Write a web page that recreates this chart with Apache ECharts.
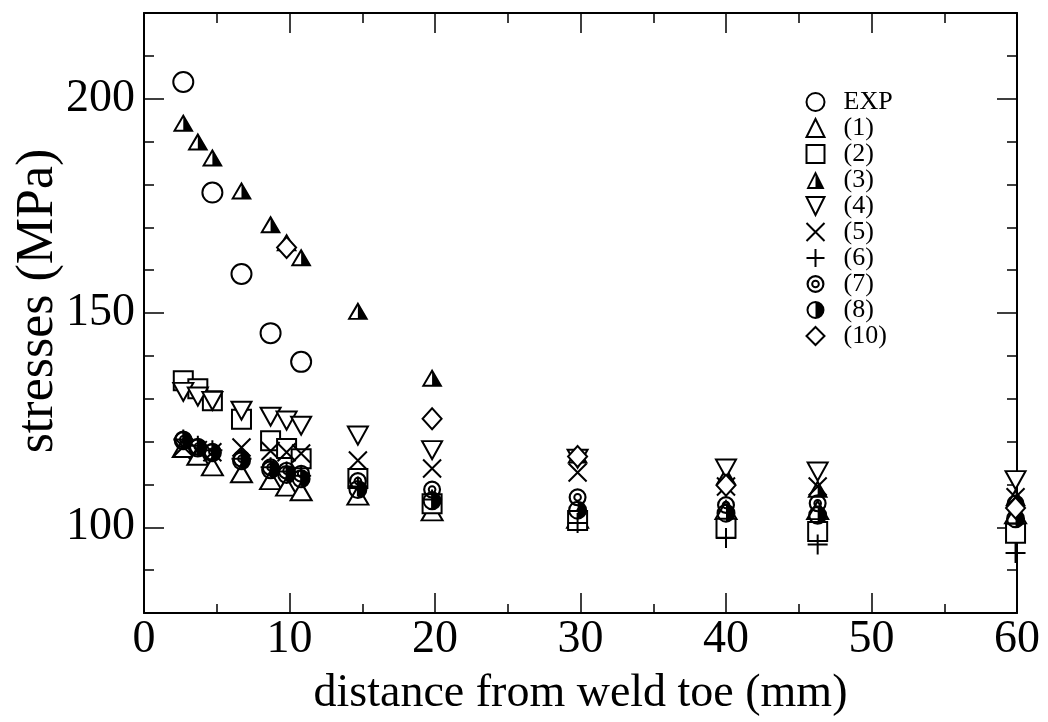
<!DOCTYPE html>
<html>
<head>
<meta charset="utf-8">
<script src="https://cdn.jsdelivr.net/npm/echarts@6/dist/echarts.min.js"></script>
<style>html,body{margin:0;padding:0;background:#fff}#c{width:1048px;height:722px}</style>
</head>
<body>
<div id="c"></div>
<script>
// ---- data ----
const X   = [2.7, 3.7, 4.7, 6.7, 8.7, 9.8, 10.8, 14.7, 19.8, 29.8, 40.0, 46.3, 59.9];
const EXP = [203.9, null, 178.1, 159.1, 145.3, null, 138.6, null, null, null, null, null, null];
const S1  = [118.5, 116.7, 114.2, 112.6, 111.0, 109.5, 108.4, 107.4, 103.7, 102.0, 104.0, 104.0, 103.0];
const S2  = [134.2, 132.3, 129.5, 125.2, 120.2, 118.4, 116.0, 111.4, 105.5, 101.6, 99.8, 99.0, 98.6];
const S3  = [194.4, 190.0, 186.3, 178.6, 170.7, 166.5, 163.0, 150.5, 134.9, 117.0, 112.0, 109.0, 107.0];
const S4  = [131.6, 130.5, 129.5, 127.2, 125.8, 124.9, 123.7, 121.4, 118.0, 116.0, 113.7, 113.0, 111.0];
const S5  = [118.8, 118.0, 117.5, 118.6, 117.8, 117.5, 117.2, 115.6, 113.7, 112.8, 109.5, 109.5, 107.0];
const S6  = [120.5, 119.0, 118.0, 116.0, 114.0, 113.0, 112.0, 109.5, 106.5, 101.0, 97.5, 96.0, 94.0];
const S7  = [120.5, 118.8, 117.6, 116.0, 114.0, 113.2, 112.5, 110.8, 108.8, 107.0, 105.2, 105.6, 105.5];
const S8  = [120.2, 118.5, 117.4, 115.5, 113.4, 112.3, 111.3, 108.8, 106.2, 104.0, 103.3, 102.8, 102.0];
const S10 = [null, null, null, null, null, 165.3, null, null, 125.3, 116.5, 109.8, null, 104.5];
const NAMES = ['EXP', '(1)', '(2)', '(3)', '(4)', '(5)', '(6)', '(7)', '(8)', '(10)'];
const Y_LABELS = [100, 150, 200];

// ---- symbols ----
const P = {
  tri: 'path://M50,0 L100,100 L0,100 Z',
  square: 'path://M0,0 L100,0 L100,100 L0,100 Z',
  down: 'path://M0,0 L100,0 L50,100 Z',
  halfTri: 'path://M50,0 L100,100 L0,100 Z M50,23 L16,89 L84,89 Z M50,0 L100,100 L50,100 Z',
  cross: 'path://M0,0 L100,100 M100,0 L0,100',
  plus: 'path://M50,0 L50,100 M0,50 L100,50',
  dcirc: 'path://M50,0 A50,50 0 1,1 50,100 A50,50 0 1,1 50,0 Z M50,12 A38,38 0 1,0 50,88 A38,38 0 1,0 50,12 Z M50,26 A24,24 0 1,1 50,74 A24,24 0 1,1 50,26 Z M50,37 A13,13 0 1,0 50,63 A13,13 0 1,0 50,37 Z',
  hcirc: 'path://M50,0 A50,50 0 1,1 50,100 A50,50 0 1,1 50,0 Z M50,11 A39,39 0 1,0 50,89 A39,39 0 1,0 50,11 Z M50,0 A50,50 0 0,1 50,100 Z',
  diamond: 'path://M50,0 L100,50 L50,100 L0,50 Z'
};
const open = {color: '#fff', borderColor: '#000', borderWidth: 2, opacity: 1};
const openLine = {color: 'none', borderColor: '#000', borderWidth: 2, opacity: 1};
const solid = {color: '#000', borderWidth: 0, opacity: 1};

function pts(vals) {
  const out = [];
  vals.forEach((v, i) => { if (v !== null) out.push([X[i], v]); });
  return out;
}
const defs = [
  [EXP, 'circle', 20, open],
  [S1, P.tri, [21, 18], open],
  [S2, P.square, 19, open],
  [S3, P.halfTri, [21, 18], solid],
  [S4, P.down, [20, 18], open],
  [S5, P.cross, 18, openLine],
  [S6, P.plus, 20, openLine],
  [S7, P.dcirc, 18, solid],
  [S8, P.hcirc, 19, solid],
  [S10, P.diamond, [19, 21], open]
];
const series = defs.map((d, k) => ({
  name: NAMES[k], type: 'scatter', xAxisIndex: 0, yAxisIndex: 0,
  symbol: d[1], symbolSize: d[2], itemStyle: d[3],
  data: pts(d[0]), emphasis: {disabled: true}, animation: false
}));

const serif = 'Liberation Serif, Times New Roman, serif';
const lineS = {show: true, lineStyle: {color: '#000', width: 2}};
const chart = echarts.init(document.getElementById('c'), null, {renderer: 'canvas'});
chart.setOption({
  backgroundColor: '#fff',
  animation: false,
  grid: {left: 144, top: 13, right: 31, bottom: 109, containLabel: false, outerBoundsMode: 'none'},
  legend: {
    orient: 'vertical', left: 804, top: 89, padding: 0, itemWidth: 46, itemHeight: 18, itemGap: 0,
    textStyle: {fontFamily: serif, fontSize: 26, lineHeight: 20, color: '#000'},
    data: NAMES, selectedMode: false
  },
  xAxis: [
    {type: 'value', position: 'bottom', min: 0, max: 60, interval: 10,
     name: 'distance from weld toe (mm)', nameLocation: 'middle', nameGap: 58, nameMoveOverlap: false,
     nameTextStyle: {fontFamily: serif, fontSize: 46, color: '#000'},
     axisLine: lineS, splitLine: {show: false},
     axisTick: {show: true, inside: true, length: 20, lineStyle: {color: '#000', width: 1.5}},
     minorTick: {show: true, splitNumber: 2, length: 9, lineStyle: {color: '#000', width: 1.5}},
     axisLabel: {fontFamily: serif, fontSize: 46, color: '#000', margin: 4}},
    {type: 'value', position: 'top', min: 0, max: 60, interval: 10,
     axisLine: lineS, splitLine: {show: false},
     axisTick: {show: true, inside: true, length: 20, lineStyle: {color: '#000', width: 1.5}},
     minorTick: {show: true, splitNumber: 2, length: 10, lineStyle: {color: '#000', width: 1.5}},
     axisLabel: {show: false}}
  ],
  yAxis: [
    {type: 'value', position: 'left', min: 80, max: 220, interval: 10,
     name: 'stresses (MPa)', nameLocation: 'middle', nameGap: 80, nameMoveOverlap: false,
     nameTextStyle: {fontFamily: serif, fontSize: 52, color: '#000', padding: [0, 0, 0, 24]},
     axisLine: lineS, splitLine: {show: false},
     axisTick: {show: true, inside: true, length: 10, lineStyle: {color: '#000', width: 1.5}},
     axisLabel: {fontFamily: serif, fontSize: 46, color: '#000', margin: 9,
       formatter: v => (Y_LABELS.indexOf(v) >= 0 ? String(v) : '')}},
    {type: 'value', position: 'left', min: 80, max: 220,
     axisLine: {show: false}, splitLine: {show: false}, axisLabel: {show: false},
     axisTick: {show: true, inside: true, length: 20, customValues: Y_LABELS, lineStyle: {color: '#000', width: 1.5}}},
    {type: 'value', position: 'right', min: 80, max: 220, interval: 10,
     axisLine: lineS, splitLine: {show: false}, axisLabel: {show: false},
     axisTick: {show: true, inside: true, length: 10, lineStyle: {color: '#000', width: 1.5}}},
    {type: 'value', position: 'right', min: 80, max: 220,
     axisLine: {show: false}, splitLine: {show: false}, axisLabel: {show: false},
     axisTick: {show: true, inside: true, length: 20, customValues: Y_LABELS, lineStyle: {color: '#000', width: 1.5}}}
  ],
  series: series
});
</script>
</body>
</html>
